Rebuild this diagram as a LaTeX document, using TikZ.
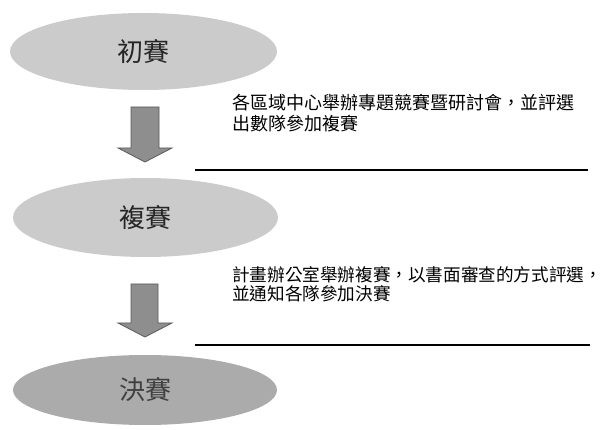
\documentclass[tikz,border=0pt]{standalone}
\usepackage{fontspec}
\newfontfamily\cjk{Noto Sans CJK TC}
\usetikzlibrary{shapes.geometric}
\definecolor{elllight}{HTML}{CBCBCB}
\definecolor{elldark}{HTML}{ABABAB}
\definecolor{arrowfill}{HTML}{8E8E8E}
\definecolor{arrowedge}{HTML}{5A5A5A}
\tikzset{
  stage/.style={ellipse, inner sep=0pt, fill=elllight, text=black!85,
    font=\cjk\fontsize{26}{30}\selectfont},
  stagedark/.style={stage, fill=elldark, text=black!75},
  blockarrow/.style={fill=arrowfill, draw=arrowedge, line width=0.8pt, line join=miter},
  note/.style={anchor=base west, inner sep=0pt, align=left,
    font=\cjk\fontsize{18}{21}\selectfont},
  rule/.style={line width=1.8pt, black}
}
\begin{document}
\begin{tikzpicture}[x=1pt,y=-1pt]
\useasboundingbox (0,0) rectangle (608,430);
% stages
\node[stage, minimum width=267, minimum height=77] (s1) at (143.5,51.5) {初賽};
\node[stage, minimum width=265, minimum height=79] (s2) at (145.5,217.5) {複賽};
\node[stagedark, minimum width=264, minimum height=70] (s3) at (145,390) {決賽};
% block arrows
\coordinate (a1) at (145,107);
\filldraw[blockarrow] (131,107) -- (159,107) -- (159,148) -- (172,148) -- (145,162) -- (118,148) -- (131,148) -- cycle;
\coordinate (a2) at (145,284);
\filldraw[blockarrow] (131,284) -- (158,284) -- (158,323) -- (172,323) -- (145,337) -- (118,323) -- (131,323) -- cycle;
% notes
\node[note] (n1) at (232,131) {各區域中心舉辦專題競賽暨研討會，並評選\\出數隊參加複賽};
\node[note, font=\cjk\fontsize{17.6}{19.5}\selectfont] (n2) at (232,301) {計畫辦公室舉辦複賽，以書面審查的方式評選，\\並通知各隊參加決賽};
% rules
\coordinate (r1a) at (195,170);
\coordinate (r1b) at (588,170);
\draw[rule] (r1a) -- (r1b);
\coordinate (r2a) at (195,345);
\coordinate (r2b) at (590,345);
\draw[rule] (r2a) -- (r2b);
\end{tikzpicture}
\end{document}
